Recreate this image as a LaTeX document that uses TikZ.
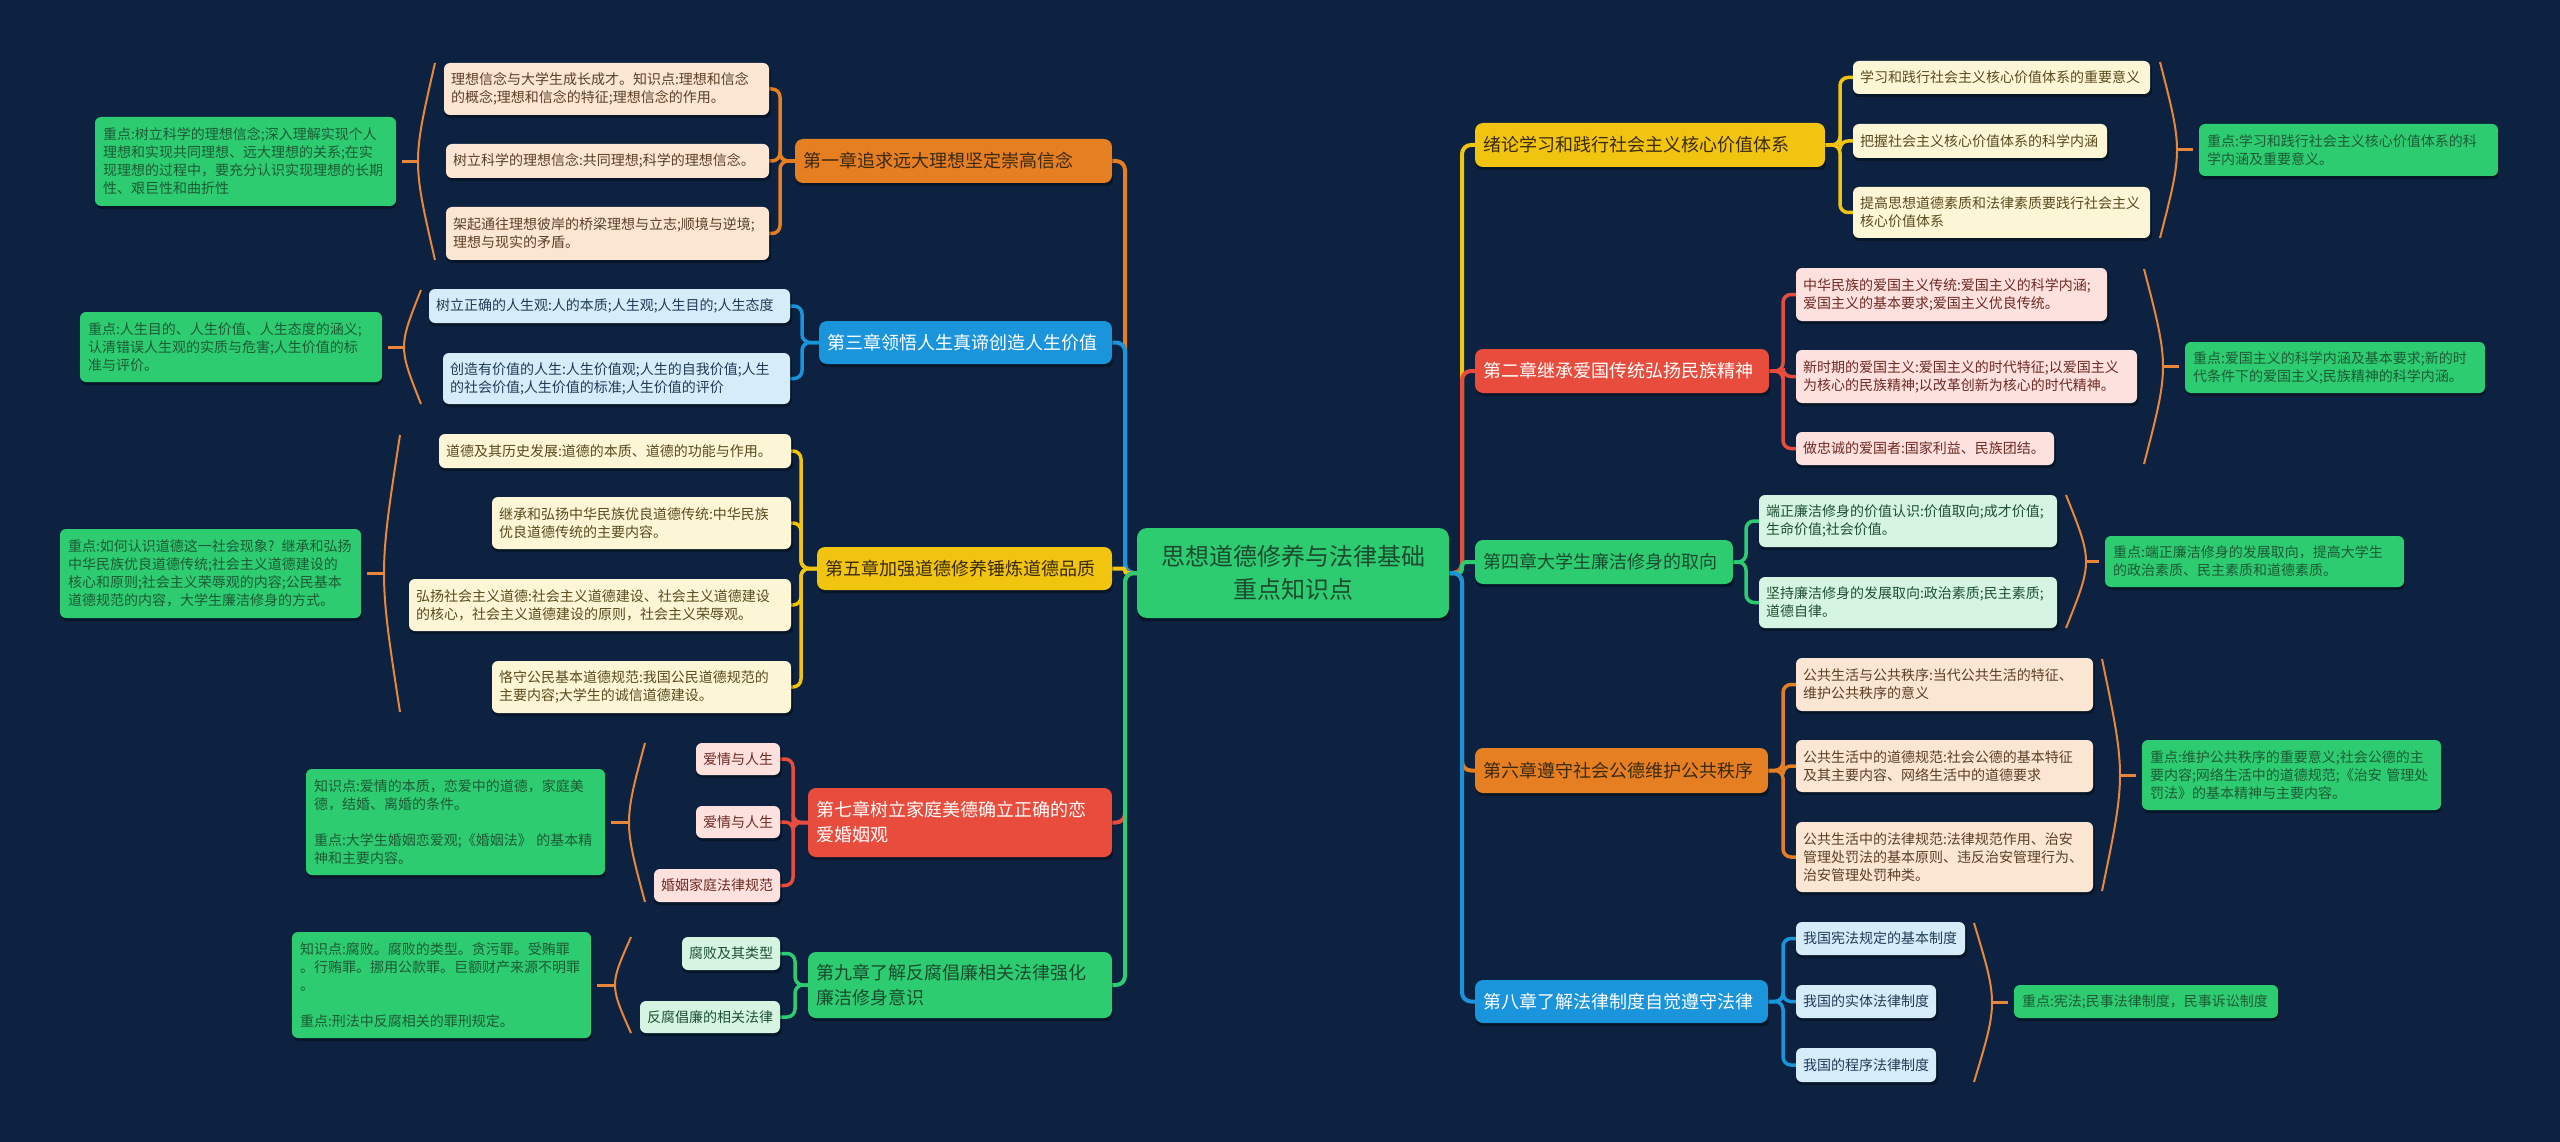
\documentclass[tikz,border=0pt]{standalone}
\usepackage{fontspec}
\setmainfont{Noto Sans CJK SC}
\definecolor{bg}{HTML}{0C2240}
\definecolor{cO}{HTML}{E67E22}
\definecolor{cY}{HTML}{F1C40F}
\definecolor{cB}{HTML}{1A94DB}
\definecolor{cR}{HTML}{E74C3C}
\definecolor{cG}{HTML}{2ECC71}
\definecolor{lO}{HTML}{FBE6D4}
\definecolor{lY}{HTML}{FDF6D6}
\definecolor{lB}{HTML}{D6EDF9}
\definecolor{lR}{HTML}{FCE1DE}
\definecolor{lG}{HTML}{D5F5E2}
\definecolor{tO}{HTML}{5A4025}
\definecolor{tY}{HTML}{5A4A1C}
\definecolor{tB}{HTML}{1F3B57}
\definecolor{tR}{HTML}{6E2A22}
\definecolor{tG}{HTML}{1E4F33}
\definecolor{chd}{HTML}{3A2A12}
\definecolor{chg}{HTML}{1B4A2E}
\definecolor{nt}{HTML}{1D5A35}
\definecolor{bk}{HTML}{E8873A}
\pgfdeclarelayer{bglayer}
\pgfdeclarelayer{lines}
\pgfsetlayers{bglayer,lines,main}
\tikzset{
  base/.style={rectangle, rounded corners=6pt, outer sep=0pt, align=left, inner ysep=0pt, inner xsep=8pt},
  chap/.style={base, rounded corners=8pt, font=\fontsize{18}{25}\selectfont},
  chO/.style={chap, fill=cO, text=chd},
  chY/.style={chap, fill=cY, text=chd},
  chB/.style={chap, fill=cB, text=white},
  chR/.style={chap, fill=cR, text=white},
  chG/.style={chap, fill=cG, text=chg},
  leaf/.style={base, inner xsep=7pt, font=\fontsize{14}{18}\selectfont},
  lfO/.style={leaf, fill=lO, text=tO},
  lfY/.style={leaf, fill=lY, text=tY},
  lfB/.style={leaf, fill=lB, text=tB},
  lfR/.style={leaf, fill=lR, text=tR},
  lfG/.style={leaf, fill=lG, text=tG},
  note/.style={base, fill=cG, text=nt, font=\fontsize{14}{18}\selectfont},
  rootst/.style={base, rounded corners=10pt, fill=cG, text=chg, align=center, font=\fontsize{24}{33}\selectfont},
  br/.style={line width=4pt, rounded corners=9pt},
  cb/.style={line width=3.5pt, rounded corners=8pt},
  brk/.style={draw=bk, line width=2pt},
  brkc/.style={draw=bk, line width=3pt, shorten >=6pt},
}
\newcommand\drawbox[7]{%
  \pgfmathsetmacro\bxw{#4-#2-16}%
  \pgfmathsetmacro\bxh{#5-#3}%
  \fill[black, opacity=.35, rounded corners=6pt] (#2+1,#3+3) rectangle (#4+1,#5+3);
  \node[#6, text width=\bxw pt, minimum height=\bxh pt, anchor=center] (#1) at ({(#2+#4)/2},{(#3+#5)/2}) {#7};
}
\newcommand\drawbrk[5]{%
  \pgfmathsetmacro\bkc{#2+(#3-#2)*4/3}%
  \pgfmathsetmacro\bkm{(#4+#5)/2}%
  \begin{pgfonlayer}{lines}
  \draw[brk] (#2,#4) .. controls (\bkc,\bkm) .. (#2,#5);
  \end{pgfonlayer}
  \coordinate (#1) at (#3,\bkm);
}
\begin{document}
\begin{tikzpicture}[x=1pt,y=-1pt]
\begin{pgfonlayer}{bglayer}
\fill[bg] (0,0) rectangle (2560,1142);
\end{pgfonlayer}
\useasboundingbox (0,0) rectangle (2560,1142);

% root
\drawbox{root}{1137}{528}{1449}{618}{rootst}{思想道德修养与法律基础\\重点知识点}

% ---------- left side ----------
\drawbox{c1}{795}{139}{1112}{183}{chO}{第一章追求远大理想坚定崇高信念}
\drawbox{l1a}{443}{63}{770}{115}{lfO}{理想信念与大学生成长成才。知识点:理想和信念\\的概念;理想和信念的特征;理想信念的作用。}
\drawbox{l1b}{445}{144}{770}{178}{lfO}{树立科学的理想信念:共同理想;科学的理想信念。}
\drawbox{l1c}{445}{207}{770}{260}{lfO}{架起通往理想彼岸的桥梁理想与立志;顺境与逆境;\\理想与现实的矛盾。}
\drawbox{n1}{95}{117}{396}{206}{note}{重点:树立科学的理想信念;深入理解实现个人\\理想和实现共同理想、远大理想的关系;在实\\现理想的过程中，要充分认识实现理想的长期\\性、艰巨性和曲折性}
\drawbrk{bk1}{435}{418}{63}{260}

\drawbox{c3}{819}{321}{1112}{364}{chB}{第三章领悟人生真谛创造人生价值}
\drawbox{l3a}{428}{289}{791}{323}{lfB}{树立正确的人生观:人的本质;人生观;人生目的;人生态度}
\drawbox{l3b}{442}{353}{791}{404}{lfB}{创造有价值的人生:人生价值观;人生的自我价值;人生\\的社会价值;人生价值的标准;人生价值的评价}
\drawbox{n3}{80}{312}{382}{382}{note}{重点:人生目的、人生价值、人生态度的涵义;\\认清错误人生观的实质与危害;人生价值的标\\准与评价。}
\drawbrk{bk3}{421}{404}{290}{404}

\drawbox{c5}{817}{547}{1112}{590}{chY}{第五章加强道德修养锤炼道德品质}
\drawbox{l5a}{438}{434}{792}{468}{lfY}{道德及其历史发展:道德的本质、道德的功能与作用。}
\drawbox{l5b}{491}{497}{792}{549}{lfY}{继承和弘扬中华民族优良道德传统:中华民族\\优良道德传统的主要内容。}
\drawbox{l5c}{408}{579}{792}{631}{lfY}{弘扬社会主义道德:社会主义道德建设、社会主义道德建设\\的核心，社会主义道德建设的原则，社会主义荣辱观。}
\drawbox{l5d}{491}{661}{792}{713}{lfY}{恪守公民基本道德规范:我国公民道德规范的\\主要内容;大学生的诚信道德建设。}
\drawbox{n5}{60}{529}{361}{618}{note}{重点:如何认识道德这一社会现象? 继承和弘扬\\中华民族优良道德传统;社会主义道德建设的\\核心和原则;社会主义荣辱观的内容;公民基本\\道德规范的内容，大学生廉洁修身的方式。}
\drawbrk{bk5}{400}{384}{435}{712}

\drawbox{c7}{808}{788}{1112}{857}{chR}{第七章树立家庭美德确立正确的恋\\爱婚姻观}
\drawbox{l7a}{695}{743}{781}{775}{lfR}{爱情与人生}
\drawbox{l7b}{695}{806}{781}{838}{lfR}{爱情与人生}
\drawbox{l7c}{653}{869}{781}{902}{lfR}{婚姻家庭法律规范}
\drawbox{n7}{306}{769}{605}{875}{note}{知识点:爱情的本质，恋爱中的道德，家庭美\\德，结婚、离婚的条件。\\\mbox{}\\重点:大学生婚姻恋爱观;《婚姻法》 的基本精\\神和主要内容。}
\drawbrk{bk7}{645}{629}{743}{902}

\drawbox{c9}{808}{952}{1112}{1018}{chG}{第九章了解反腐倡廉相关法律强化\\廉洁修身意识}
\drawbox{l9a}{681}{937}{781}{970}{lfG}{腐败及其类型}
\drawbox{l9b}{639}{1001}{781}{1033}{lfG}{反腐倡廉的相关法律}
\drawbox{n9}{292}{932}{591}{1038}{note}{知识点:腐败。腐败的类型。贪污罪。受贿罪\\。行贿罪。挪用公款罪。巨额财产来源不明罪\\。\\\mbox{}\\重点:刑法中反腐相关的罪刑规定。}
\drawbrk{bk9}{631}{615}{937}{1033}

% ---------- right side ----------
\drawbox{c0}{1475}{123}{1825}{167}{chY}{绪论学习和践行社会主义核心价值体系}
\drawbox{r0a}{1852}{61}{2151}{94}{lfY}{学习和践行社会主义核心价值体系的重要意义}
\drawbox{r0b}{1852}{124}{2108}{158}{lfY}{把握社会主义核心价值体系的科学内涵}
\drawbox{r0c}{1852}{187}{2151}{238}{lfY}{提高思想道德素质和法律素质要践行社会主义\\核心价值体系}
\drawbox{n0}{2199}{124}{2498}{176}{note}{重点:学习和践行社会主义核心价值体系的科\\学内涵及重要意义。}
\drawbrk{bk0}{2160}{2177}{62}{238}

\drawbox{c2}{1475}{349}{1769}{393}{chR}{第二章继承爱国传统弘扬民族精神}
\drawbox{r2a}{1795}{268}{2108}{321}{lfR}{中华民族的爱国主义传统:爱国主义的科学内涵;\\爱国主义的基本要求;爱国主义优良传统。}
\drawbox{r2b}{1795}{350}{2138}{403}{lfR}{新时期的爱国主义:爱国主义的时代特征;以爱国主义\\为核心的民族精神;以改革创新为核心的时代精神。}
\drawbox{r2c}{1795}{432}{2055}{465}{lfR}{做忠诚的爱国者:国家利益、民族团结。}
\drawbox{n2}{2185}{342}{2485}{393}{note}{重点:爱国主义的科学内涵及基本要求;新的时\\代条件下的爱国主义;民族精神的科学内涵。}
\drawbrk{bk2}{2144}{2163}{269}{464}

\drawbox{c4}{1475}{540}{1733}{584}{chG}{第四章大学生廉洁修身的取向}
\drawbox{r4a}{1758}{495}{2058}{547}{lfG}{端正廉洁修身的价值认识:价值取向;成才价值;\\生命价值;社会价值。}
\drawbox{r4b}{1758}{577}{2058}{628}{lfG}{坚持廉洁修身的发展取向:政治素质;民主素质;\\道德自律。}
\drawbox{n4}{2105}{536}{2404}{587}{note}{重点:端正廉洁修身的发展取向，提高大学生\\的政治素质、民主素质和道德素质。}
\drawbrk{bk4}{2066}{2086}{495}{628}

\drawbox{c6}{1475}{748}{1768}{793}{chO}{第六章遵守社会公德维护公共秩序}
\drawbox{r6a}{1795}{658}{2094}{711}{lfO}{公共生活与公共秩序:当代公共生活的特征、\\维护公共秩序的意义}
\drawbox{r6b}{1795}{740}{2094}{792}{lfO}{公共生活中的道德规范:社会公德的基本特征\\及其主要内容、网络生活中的道德要求}
\drawbox{r6c}{1795}{822}{2094}{892}{lfO}{公共生活中的法律规范:法律规范作用、治安\\管理处罚法的基本原则、违反治安管理行为、\\治安管理处罚种类。}
\drawbox{n6}{2142}{740}{2441}{810}{note}{重点:维护公共秩序的重要意义;社会公德的主\\要内容;网络生活中的道德规范;《治安 管理处\\罚法》的基本精神与主要内容。}
\drawbrk{bk6}{2102}{2120}{659}{891}

\drawbox{c8}{1475}{980}{1768}{1023}{chB}{第八章了解法律制度自觉遵守法律}
\drawbox{r8a}{1795}{922}{1966}{955}{lfB}{我国宪法规定的基本制度}
\drawbox{r8b}{1795}{985}{1937}{1018}{lfB}{我国的实体法律制度}
\drawbox{r8c}{1795}{1048}{1937}{1082}{lfB}{我国的程序法律制度}
\drawbox{n8}{2014}{985}{2278}{1018}{note}{重点:宪法;民事法律制度，民事诉讼制度}
\drawbrk{bk8}{1974}{1992}{923}{1082}

% ---------- connectors ----------
\coordinate (tL) at (1125,0);
\coordinate (tR) at (1462,0);
\coordinate (k1) at (780,0);
\coordinate (k3) at (802,0);
\coordinate (k5) at (801,0);
\coordinate (k7) at (793,0);
\coordinate (k9) at (795,0);
\coordinate (k0) at (1840,0);
\coordinate (k2) at (1783,0);
\coordinate (k4) at (1746,0);
\coordinate (k6) at (1783,0);
\coordinate (k8) at (1783,0);

\begin{pgfonlayer}{lines}
% left trunk
\draw[br, cO] (root.west) -- (tL |- root.west) |- (c1.east);
\draw[br, cB] (root.west) -- (tL |- root.west) |- (c3.east);
\draw[br, cY, rounded corners=2pt] (root.west) -- (tL |- root.west) |- (c5.east);
\draw[br, cR] (root.west) -- (tL |- root.west) |- (c7.east);
\draw[br, cG] (root.west) -- (tL |- root.west) |- (c9.east);
% right trunk
\draw[br, cY] (root.east) -- (tR |- root.east) |- (c0.west);
\draw[br, cR] (root.east) -- (tR |- root.east) |- (c2.west);
\draw[br, cG, rounded corners=4pt] (root.east) -- (tR |- root.east) |- (c4.west);
\draw[br, cO] (root.east) -- (tR |- root.east) |- (c6.west);
\draw[br, cB] (root.east) -- (tR |- root.east) |- (c8.west);

% left combs
\foreach \l in {l1a,l1b,l1c}{\draw[cb, cO] (c1.west) -- (k1 |- c1.west) |- (\l.east);}
\foreach \l in {l3a,l3b}{\draw[cb, cB] (c3.west) -- (k3 |- c3.west) |- (\l.east);}
\foreach \l in {l5a,l5b,l5c,l5d}{\draw[cb, cY] (c5.west) -- (k5 |- c5.west) |- (\l.east);}
\foreach \l in {l7a,l7b,l7c}{\draw[cb, cR] (c7.west) -- (k7 |- c7.west) |- (\l.east);}
\foreach \l in {l9a,l9b}{\draw[cb, cG] (c9.west) -- (k9 |- c9.west) |- (\l.east);}
% right combs
\foreach \l in {r0a,r0b,r0c}{\draw[cb, cY] (c0.east) -- (k0 |- c0.east) |- (\l.west);}
\foreach \l in {r2a,r2b,r2c}{\draw[cb, cR] (c2.east) -- (k2 |- c2.east) |- (\l.west);}
\foreach \l in {r4a,r4b}{\draw[cb, cG] (c4.east) -- (k4 |- c4.east) |- (\l.west);}
\foreach \l in {r6a,r6b,r6c}{\draw[cb, cO] (c6.east) -- (k6 |- c6.east) |- (\l.west);}
\foreach \l in {r8a,r8b,r8c}{\draw[cb, cB] (c8.east) -- (k8 |- c8.east) |- (\l.west);}

% bracket to note
\draw[brkc] (bk1) -- (bk1 -| n1.east);
\draw[brkc] (bk3) -- (bk3 -| n3.east);
\draw[brkc] (bk5) -- (bk5 -| n5.east);
\draw[brkc] (bk7) -- (bk7 -| n7.east);
\draw[brkc] (bk9) -- (bk9 -| n9.east);
\draw[brkc] (bk0) -- (bk0 -| n0.west);
\draw[brkc] (bk2) -- (bk2 -| n2.west);
\draw[brkc] (bk4) -- (bk4 -| n4.west);
\draw[brkc] (bk6) -- (bk6 -| n6.west);
\draw[brkc] (bk8) -- (bk8 -| n8.west);
\end{pgfonlayer}
\end{tikzpicture}
\end{document}
